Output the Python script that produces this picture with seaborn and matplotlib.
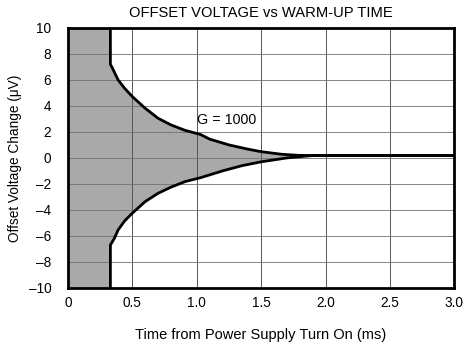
import numpy as np
import pandas as pd
import matplotlib
matplotlib.use("Agg")
import matplotlib.pyplot as plt
import seaborn as sns

# ---- data ----
upper_x = [0.33, 0.33, 0.34, 0.39, 0.44, 0.50, 0.60, 0.70, 0.80, 0.91, 1.03, 1.10, 1.25, 1.40, 1.50, 1.66, 1.79, 1.90, 3.00]
upper_y = [10.0, 7.2, 7.02, 6.0, 5.36, 4.72, 3.82, 3.05, 2.54, 2.12, 1.80, 1.45, 1.0, 0.67, 0.48, 0.28, 0.20, 0.18, 0.18]
lower_x = [0.33, 0.33, 0.36, 0.39, 0.44, 0.50, 0.60, 0.70, 0.80, 0.91, 1.03, 1.20, 1.35, 1.50, 1.70, 1.85, 1.90, 3.00]
lower_y = [-10.0, -6.7, -6.2, -5.54, -4.85, -4.25, -3.36, -2.72, -2.25, -1.82, -1.52, -1.0, -0.6, -0.3, 0.0, 0.14, 0.18, 0.18]

x_ticks = [0, 0.5, 1.0, 1.5, 2.0, 2.5, 3.0]
x_tick_labels = ["0", "0.5", "1.0", "1.5", "2.0", "2.5", "3.0"]
y_ticks = [-10, -8, -6, -4, -2, 0, 2, 4, 6, 8, 10]
y_tick_labels = ["\u201310", "\u20138", "\u20136", "\u20134", "\u20132", "0", "2", "4", "6", "8", "10"]

title = "OFFSET VOLTAGE vs WARM-UP TIME"
xlabel = "Time from Power Supply Turn On (ms)"
ylabel = "Offset Voltage Change (\u03bcV)"
annotation = "G = 1000"
ann_x, ann_y = 1.0, 2.9

sns.set_theme(style="white")
plt.rcParams['font.family'] = ['Liberation Sans', 'DejaVu Sans']
for k in ["text.color", "axes.labelcolor", "xtick.color", "ytick.color"]:
    plt.rcParams[k] = "black"

fig = plt.figure(figsize=(4.65, 3.49), dpi=100)
ax = fig.add_axes([0.146, 0.175, 0.831, 0.745])

# shaded region (polygon from the boundary data)
poly_x = [0.0] + upper_x + lower_x[::-1] + [0.0]
poly_y = [10.0] + upper_y + lower_y[::-1] + [-10.0]
ax.fill(poly_x, poly_y, color="#a9a9a9", lw=0, zorder=1)

# grid
for xv in x_ticks[1:-1]:
    ax.axvline(xv, color="#555555", lw=0.7, zorder=2)
for yv in y_ticks[1:-1]:
    ax.axhline(yv, color="#707070", lw=0.6, zorder=2)

df_u = pd.DataFrame({"x": upper_x, "y": upper_y})
df_l = pd.DataFrame({"x": lower_x, "y": lower_y})
sns.lineplot(data=df_u, x="x", y="y", ax=ax, color="black", lw=2.0,
             sort=False, estimator=None, zorder=3)
sns.lineplot(data=df_l, x="x", y="y", ax=ax, color="black", lw=2.0,
             sort=False, estimator=None, zorder=3)

ax.text(ann_x, ann_y, annotation, fontsize=10.3, ha="left", va="center", zorder=4)

ax.set_xlim(0, 3.0)
ax.set_ylim(-10, 10)
ax.set_xticks(x_ticks)
ax.set_xticklabels(x_tick_labels, fontsize=9.8)
ax.set_yticks(y_ticks)
ax.set_yticklabels(y_tick_labels, fontsize=9.8)
ax.tick_params(axis="both", length=0)
ax.tick_params(axis="x", pad=6)
ax.tick_params(axis="y", pad=12)

for s in ax.spines.values():
    s.set_visible(True)
    s.set_color("black")
    s.set_linewidth(2.0)
    s.set_zorder(5)

ax.set_title(title, fontsize=10.6, pad=8)
ax.set_xlabel(xlabel, fontsize=10.5, labelpad=13)
ax.set_ylabel(ylabel, fontsize=9.8, labelpad=5)

fig.savefig("out.png", dpi=100)
